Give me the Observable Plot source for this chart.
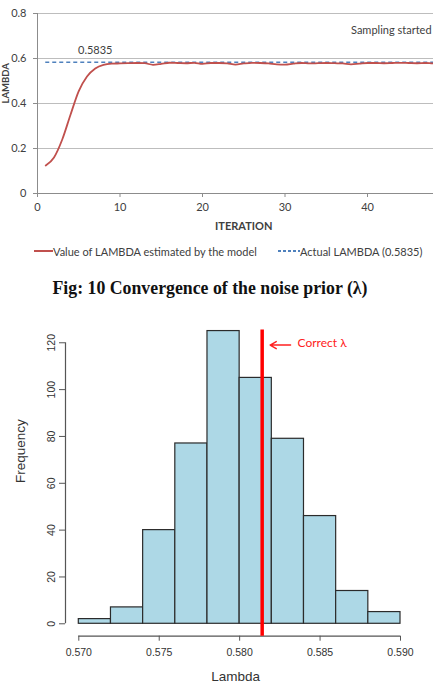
<!DOCTYPE html>
<html>
<head>
<meta charset="utf-8">
<script src="https://cdn.jsdelivr.net/npm/d3@7"></script>
<script src="https://cdn.jsdelivr.net/npm/@observablehq/plot@0.6"></script>
<style>
  html, body { margin: 0; padding: 0; background: #fff; overflow: hidden; }
  #page { position: relative; width: 433px; height: 687px; overflow: hidden; }
  #page svg.plot, #page svg { max-width: none !important; }
  #top { position: absolute; left: 0; top: 0; }
  #legend { position: absolute; left: 0; top: 243px; width: 433px; height: 16px; font-family: Lato, "Open Sans", sans-serif; font-size: 11px; color: #404040; }
  #legend .item { position: absolute; top: 0; display: flex; align-items: center; height: 16px; white-space: nowrap; }
  #caption { position: absolute; left: 0; top: 277px; width: 420px; text-align: center; font-family: "Liberation Serif", "Times New Roman", serif; font-weight: bold; font-size: 17.8px; line-height: 22px; color: #111; white-space: nowrap; }
  #bottom { position: absolute; left: 0; top: 310px; }
</style>
</head>
<body>
<div id="page">
  <div id="top"></div>
  <div id="legend"></div>
  <div id="caption">Fig: 10 Convergence of the noise prior (λ)</div>
  <div id="bottom"></div>
</div>
<script>
// ---------- Top chart data ----------
const iterations = [1,2,3,4,5,6,7,8,9,10,11,12,13,14,15,16,17,18,19,20,21,22,23,24,25,26,27,28,29,30,31,32,33,34,35,36,37,38,39,40,41,42,43,44,45,46,47,48,49,50];
const lambdaEstimates = [0.124,0.16,0.24,0.35,0.455,0.52,0.556,0.572,0.577,0.578,0.579,0.58,0.579,0.572,0.576,0.581,0.58,0.579,0.581,0.576,0.58,0.58,0.578,0.573,0.578,0.581,0.58,0.578,0.574,0.573,0.577,0.58,0.578,0.579,0.58,0.579,0.578,0.574,0.577,0.58,0.58,0.579,0.58,0.581,0.58,0.579,0.58,0.578,0.579,0.58];
const actualLambda = 0.5835;
const xTicksTop = [0,10,20,30,40];
const yTicksTop = [0,0.2,0.4,0.6,0.8];
const valueLabel = {iteration: 7, value: 0.636, text: "0.5835"};
const samplingLabel = {iteration: 38, value: 0.724, text: "Sampling started"};
const legendItems = [
  {label: "Value of LAMBDA estimated by the model", color: "#c0504d", dash: null},
  {label: "Actual LAMBDA (0.5835)", color: "#4f81bd", dash: "3,2"}
];

// ---------- Histogram data ----------
const binStarts = [0.570,0.572,0.574,0.576,0.578,0.580,0.582,0.584,0.586,0.588];
const binWidth = 0.002;
const frequencies = [2,7,40,77,125,105,79,46,14,5];
const correctLambda = 0.5814;
const xTicksHist = [0.570,0.575,0.580,0.585,0.590];
const yTicksHist = [0,20,40,60,80,100,120];
const correctLabel = {x: 0.5836, y: 119, text: "Correct λ"};

// ---------- Top chart ----------
const topSeries = iterations.map((it, i) => ({iteration: it, value: lambdaEstimates[i]}));
const axisGray = "#8c8c8c";

const topChart = Plot.plot({
  width: 450,
  height: 235,
  marginLeft: 37,
  marginRight: 0.5,
  marginTop: 13,
  marginBottom: 42,
  x: {domain: [0, 50]},
  y: {domain: [0, 0.8]},
  style: {fontFamily: "Lato, 'Open Sans', sans-serif", fontSize: "11px", color: "#404040", background: "white"},
  marks: [
    Plot.ruleY(yTicksTop.filter(d => d > 0), {stroke: "#bdbdbd", strokeWidth: 1}),
    Plot.ruleY([yTicksTop[0]], {stroke: axisGray}),
    Plot.ruleX([xTicksTop[0]], {y1: yTicksTop[0], y2: yTicksTop[yTicksTop.length - 1], stroke: axisGray}),
    Plot.axisX({ticks: xTicksTop, tickSize: 4, tickPadding: 6, label: null, stroke: axisGray, fill: "#404040"}),
    Plot.axisY({ticks: yTicksTop, tickSize: 4, tickPadding: 7, label: null, stroke: axisGray, fill: "#404040",
      tickFormat: d => d === 0 ? "0" : d.toFixed(1)}),
    Plot.ruleY([actualLambda], {x1: iterations[0], x2: iterations[iterations.length - 1], stroke: "#4f81bd", strokeWidth: 1.5, strokeDasharray: "4,3"}),
    Plot.line(topSeries, {x: "iteration", y: "value", stroke: "#c0504d", strokeWidth: 1.8, curve: "monotone-x"}),
    Plot.text([valueLabel], {x: "iteration", y: "value", text: "text", textAnchor: "middle", fill: "#404040", fontSize: 11}),
    Plot.text([samplingLabel], {x: "iteration", y: "value", text: "text", textAnchor: "start", fill: "#404040", fontSize: 11}),
    Plot.text(["ITERATION"], {frameAnchor: "bottom", dy: 33, lineAnchor: "middle", fontWeight: "bold", fontSize: 11, fill: "#404040"}),
    Plot.text(["LAMBDA"], {frameAnchor: "left", dx: -32, rotate: -90, fontWeight: "bold", fontSize: 9.5, fill: "#404040"})
  ]
});
document.getElementById("top").appendChild(topChart);

// ---------- Legend (HTML) ----------
const legendPositions = [34, 278];
const legend = document.getElementById("legend");
legendItems.forEach((item, i) => {
  const div = document.createElement("div");
  div.className = "item";
  div.style.left = legendPositions[i] + "px";
  const sw = i === 0 ? 19 : 22;
  div.innerHTML = `<svg width="${sw}" height="4" style="display:block"><line x1="0" y1="2" x2="${sw}" y2="2" stroke="${item.color}" stroke-width="2" ${item.dash ? `stroke-dasharray="${item.dash}"` : ""}/></svg><span>${item.label}</span>`;
  legend.appendChild(div);
});

// ---------- Histogram ----------
const bins = binStarts.map((s, i) => ({x1: s, x2: s + binWidth, count: frequencies[i]}));
const rGray = "#555";

const histChart = Plot.plot({
  width: 433,
  height: 377,
  marginLeft: 78.3,
  marginRight: 33,
  marginTop: 19.4,
  marginBottom: 51.3,
  x: {domain: [xTicksHist[0], xTicksHist[xTicksHist.length - 1]]},
  y: {domain: [-5.3, 125.5]},
  style: {fontFamily: "'Liberation Sans', Arial, sans-serif", fontSize: "10.5px", color: "#333", background: "white"},
  marks: [
    Plot.rectY(bins, {x1: "x1", x2: "x2", y: "count", fill: "#add8e6", stroke: "#2b2b2b", strokeWidth: 1.2, inset: 0}),
    Plot.ruleY([yTicksHist[0]], {x1: xTicksHist[0], x2: xTicksHist[xTicksHist.length - 1], dy: 12.4, stroke: rGray, strokeWidth: 1.2}),
    Plot.axisX({ticks: xTicksHist, tickSize: 5, tickPadding: 7, label: null, stroke: rGray, fill: "#333",
      tickFormat: d => d.toFixed(3)}),
    Plot.ruleX([xTicksHist[0]], {y1: yTicksHist[0], y2: yTicksHist[yTicksHist.length - 1], dx: -13.3, stroke: rGray, strokeWidth: 1.2}),
    Plot.axisY({ticks: yTicksHist, tickSize: 6, tickPadding: 5, tickRotate: -90, dx: -13.3, label: null, stroke: rGray, fill: "#333"}),
    Plot.ruleX([correctLambda], {stroke: "#ff0000", strokeWidth: 3.5}),
    Plot.arrow([correctLabel], {x1: "x", x2: () => correctLambda, y1: "y", y2: "y", stroke: "#ff2020", strokeWidth: 1.5, headLength: 7, insetStart: 7, insetEnd: 8}),
    Plot.text([correctLabel], {x: "x", y: "y", text: "text", textAnchor: "start", fill: "#ff2020", fontSize: 12, dy: -2, fontFamily: "Lato, sans-serif"}),
    Plot.text(["Lambda"], {frameAnchor: "bottom", dx: -4, dy: 40.3, lineAnchor: "middle", fontSize: 13.5, fill: "#333"}),
    Plot.text(["Frequency"], {frameAnchor: "left", dx: -58, rotate: -90, fontSize: 13.5, fill: "#333"})
  ]
});
document.getElementById("bottom").appendChild(histChart);
</script>
</body>
</html>
